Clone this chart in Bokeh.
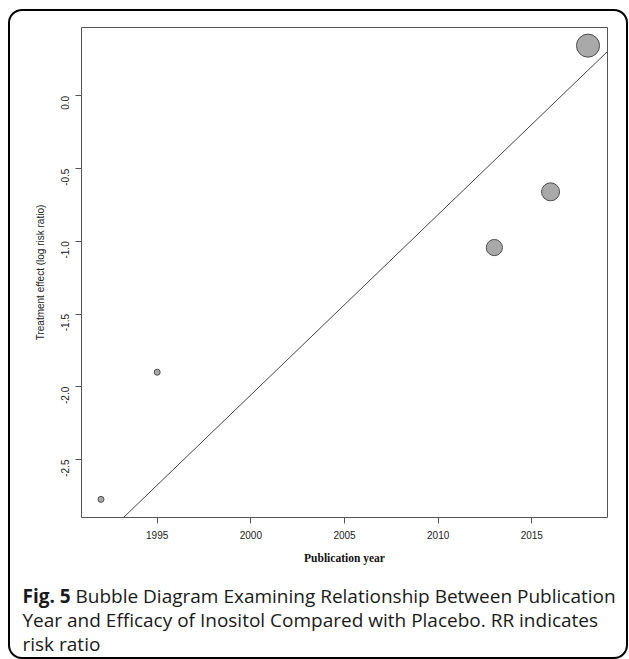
import math
from bokeh.plotting import figure
from bokeh.layouts import column
from bokeh.models import Range1d, FixedTicker, Slope, ColumnDataSource
from bokeh.core.properties import value
from bokeh.embed import file_html
from bokeh.resources import INLINE

# ---- data ----
years = [1992, 1995, 2013, 2016, 2018]
log_rr = [-2.774, -1.90, -1.043, -0.660, 0.345]
weights = [1.0, 1.0, 2.7, 3.0, 3.85]
x_ticks = [1995, 2000, 2005, 2010, 2015]
y_ticks = [0.0, -0.5, -1.0, -1.5, -2.0, -2.5]
y_tick_labels = ["0.0", "-0.5", "-1.0", "-1.5", "-2.0", "-2.5"]
fit_slope = 0.124       # meta-regression slope per year
fit_at_2005 = -1.436    # fitted value in 2005
x_title = "Publication year"
y_title = "Treatment effect (log risk ratio)"
caption_bold = "Fig. 5"
caption_lines = [
    "Bubble Diagram Examining Relationship Between Publication",
    "Year and Efficacy of Inositol Compared with Placebo. RR indicates",
    "risk ratio",
]

# R-style 4% range padding
def padded(vals):
    lo, hi = min(vals), max(vals)
    r = hi - lo
    return lo - 0.04 * r, hi + 0.04 * r

x0, x1 = padded(years)
y0, y1 = padded(log_rr)

W, H = 616, 560
p = figure(width=W, height=H, output_backend="svg", toolbar_location=None,
           x_range=Range1d(x0, x1), y_range=Range1d(y0, y1),
           min_border_left=71, min_border_right=19,
           min_border_top=16, min_border_bottom=54)
p.background_fill_color = "white"
p.border_fill_color = None
p.outline_line_color = "#555555"
p.outline_line_width = 1
p.grid.grid_line_color = None

GREY = "#555555"
for ax in (p.xaxis[0], p.yaxis[0]):
    ax.axis_line_color = None
    ax.major_tick_line_color = GREY
    ax.major_tick_out = 6
    ax.major_tick_in = 0
    ax.minor_tick_line_color = None
    ax.major_label_text_font = "Liberation Sans"
    ax.major_label_text_font_size = "10px"
    ax.major_label_text_color = "#222222"

p.xaxis.ticker = FixedTicker(ticks=x_ticks)
p.xaxis.major_label_standoff = 7
p.xaxis.axis_label = x_title
p.xaxis.axis_label_text_font = "Liberation Serif"
p.xaxis.axis_label_text_font_style = "bold"
p.xaxis.axis_label_text_font_size = "11.5px"
p.xaxis.axis_label_text_color = "#111111"
p.xaxis.axis_label_standoff = 10

p.yaxis.ticker = FixedTicker(ticks=y_ticks)
p.yaxis.major_label_overrides = {t: s for t, s in zip(y_ticks, y_tick_labels)}
p.yaxis.major_label_orientation = math.pi / 2
p.yaxis.major_label_standoff = 10
p.yaxis.axis_label = y_title
p.yaxis.axis_label_text_font = "Liberation Sans"
p.yaxis.axis_label_text_font_style = "normal"
p.yaxis.axis_label_text_font_size = "10px"
p.yaxis.axis_label_text_color = "#222222"
p.yaxis.axis_label_standoff = 9

# regression line
p.add_layout(Slope(gradient=fit_slope, y_intercept=fit_at_2005 - fit_slope * 2005,
                   line_color="#444444", line_width=1))

# bubbles
src = ColumnDataSource(dict(x=years, y=log_rr, s=[6 * w for w in weights]))
p.scatter("x", "y", size="s", source=src, fill_color="#a9a9a9",
          line_color="#4d4d4d", line_width=1)

# ---- caption panel (pixel coordinates, y downwards) ----
CH = 86
cap = figure(width=W, height=CH, output_backend="svg", toolbar_location=None,
             x_range=Range1d(0, W), y_range=Range1d(CH, 0),
             x_axis_location=None, y_axis_location=None,
             min_border_left=0, min_border_right=0, min_border_top=0, min_border_bottom=0)
try:
    cap.frame_align = False
    p.frame_align = False
except Exception:
    pass
cap.outline_line_color = None
cap.grid.visible = False
cap.background_fill_color = None
cap.border_fill_color = None

cap_font = value("Open Sans")
cap_size = value("19px")
cap_color = "#1a1a1a"
cap.text(x=[12], y=[24], text=[caption_bold], text_font=cap_font, text_font_style="bold",
         text_font_size=cap_size, text_baseline="middle", text_color=cap_color)
cap.text(x=[65, 12, 12], y=[24, 48.5, 72.5], text=caption_lines, text_font=cap_font,
         text_font_size=cap_size, text_baseline="middle", text_color=cap_color)

layout = column(p, cap, spacing=0, margin=(9, 0, 0, 8),
                styles={"border": "2px solid black", "border-radius": "14px"})

open("out.html", "w").write(file_html(layout, INLINE))
